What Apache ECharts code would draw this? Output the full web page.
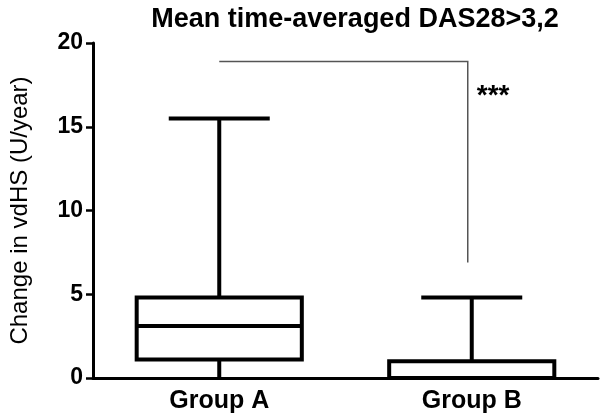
<!DOCTYPE html>
<html>
<head>
<meta charset="utf-8">
<script src="https://cdn.jsdelivr.net/npm/echarts@6/dist/echarts.min.js"></script>
<style>
  html, body { margin: 0; padding: 0; background: #fff; }
  #chart { width: 600px; height: 420px; }
</style>
</head>
<body>
<div id="chart"></div>
<script>
  // box plot values
  var categories = ['Group A', 'Group B'];
  var whiskerLow = [0, 0];
  var q1 = [1.1, 0];
  var median = [3.1, 0];
  var q3 = [4.8, 1.0];
  var whiskerHigh = [15.5, 4.8];
  var yTicks = [0, 5, 10, 15, 20];

  // significance bracket: from group A to group B at top, down to B
  var bracketTop = 18.9;
  var bracketBottom = 6.9;
  var starsLabel = '***';
  var starsY = 16.8;

  var boxData = categories.map(function (c, i) {
    return [i, whiskerLow[i], q1[i], median[i], q3[i], whiskerHigh[i]];
  });

  var chart = echarts.init(document.getElementById('chart'));

  function renderBox(params, api) {
    var idx = api.value(0);
    var band = api.size([1, 0])[0];
    var hw = band * 0.327;
    var cw = band * 0.2;
    var pMin = api.coord([idx, api.value(1)]);
    var pQ1 = api.coord([idx, api.value(2)]);
    var pMed = api.coord([idx, api.value(3)]);
    var pQ3 = api.coord([idx, api.value(4)]);
    var pMax = api.coord([idx, api.value(5)]);
    var x = pQ1[0];
    var st = { stroke: '#000', lineWidth: 4, fill: null };
    return {
      type: 'group',
      children: [
        { type: 'line', shape: { x1: x, y1: pMax[1], x2: x, y2: pQ3[1] }, style: st },
        { type: 'line', shape: { x1: x - cw, y1: pMax[1], x2: x + cw, y2: pMax[1] }, style: st },
        { type: 'line', shape: { x1: x, y1: pQ1[1], x2: x, y2: pMin[1] }, style: st },
        { type: 'line', shape: { x1: x - cw, y1: pMin[1], x2: x + cw, y2: pMin[1] }, style: { stroke: '#000', lineWidth: 2 } },
        { type: 'rect', shape: { x: x - hw, y: pQ3[1], width: hw * 2, height: pQ1[1] - pQ3[1] }, style: { stroke: '#000', lineWidth: 4, fill: '#fff' } },
        { type: 'line', shape: { x1: x - hw, y1: pMed[1], x2: x + hw, y2: pMed[1] }, style: st }
      ]
    };
  }

  function renderBracket(params, api) {
    var a = api.coord([0, bracketTop]);
    var b = api.coord([1, bracketTop]);
    var c = api.coord([1, bracketBottom]);
    var s = api.coord([1, starsY]);
    return {
      type: 'group',
      children: [
        { type: 'polyline', shape: { points: [a, [b[0] - 4, b[1]], [c[0] - 4, c[1]]] }, style: { stroke: '#555', lineWidth: 1.5, fill: null } },
        { type: 'text', x: s[0] + 5, y: s[1], style: { text: starsLabel, font: 'bold 28px "Liberation Sans", Arial', fill: '#000', verticalAlign: 'middle' } }
      ]
    };
  }

  chart.setOption({
    animation: false,
    title: {
      text: 'Mean time-averaged DAS28>3,2',
      left: 350,
      textAlign: 'center',
      top: 1,
      textStyle: { fontFamily: 'Liberation Sans', fontWeight: 'bold', fontSize: 27, color: '#000' }
    },
    grid: { left: 90, right: 2, top: 43, bottom: 42 },
    xAxis: {
      type: 'category',
      data: categories,
      axisLine: { lineStyle: { color: '#000', width: 3 } },
      axisTick: { alignWithLabel: true, length: 10, lineStyle: { color: '#000', width: 2.5 } },
      axisLabel: { color: '#000', fontFamily: 'Liberation Sans', fontWeight: 'bold', fontSize: 25, margin: 11 }
    },
    yAxis: {
      type: 'value',
      min: yTicks[0],
      max: yTicks[yTicks.length - 1],
      interval: 5,
      name: 'Change in vdHS (U/year)',
      nameLocation: 'middle',
      nameGap: 61,
      nameTextStyle: { color: '#000', fontFamily: 'Liberation Sans', fontSize: 24 },
      axisLine: { show: true, lineStyle: { color: '#000', width: 3 } },
      axisTick: { show: true, length: 7, lineStyle: { color: '#000', width: 2.5 } },
      splitLine: { show: false },
      axisLabel: { color: '#000', fontFamily: 'Liberation Sans', fontWeight: 'bold', fontSize: 23, margin: 10 }
    },
    series: [
      {
        type: 'custom',
        renderItem: renderBox,
        data: boxData,
        encode: { x: 0, y: [1, 2, 3, 4, 5] },
        z: 3
      },
      {
        type: 'custom',
        renderItem: renderBracket,
        data: [[1, bracketTop]],
        z: 2
      }
    ]
  });
</script>
</body>
</html>
